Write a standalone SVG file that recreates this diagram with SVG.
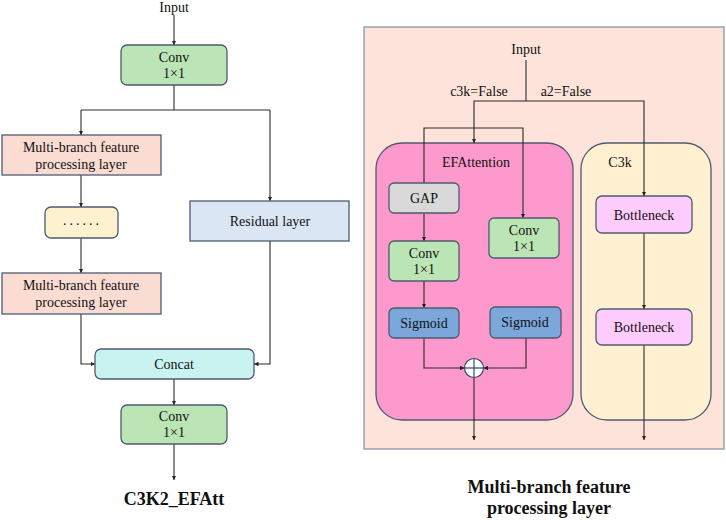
<svg xmlns="http://www.w3.org/2000/svg" width="726" height="520" viewBox="0 0 726 520">
<defs>
<marker id="ah" viewBox="0 0 8 8" refX="8" refY="4" markerWidth="4.5" markerHeight="4.5" orient="auto" markerUnits="userSpaceOnUse">
<path d="M0,0 L8,4 L0,8 z" fill="#222"/>
</marker>
</defs>
<style>
text{font-size:14px;fill:#111;text-anchor:middle}
.title{font-weight:bold;font-size:18px}
.box{stroke:#4d5b70;stroke-width:1.3}
.conv{fill:#bce5b5}
.mb{fill:#fbdcd2}
.dots{fill:#fef1cf}
.res{fill:#dbe6f4}
.cat{fill:#c9f3f1}
.gap{fill:#d9d9d9}
.sig{fill:#7ca7db}
.bn{fill:#ffccfe}
.edge{fill:none;stroke:#2b2b2b;stroke-width:1.1}
.arr{marker-end:url(#ah)}
</style>
<rect width="726" height="520" fill="#ffffff"/>
<g font-family="Liberation Serif, DejaVu Serif, serif">
<g id="panel-right-bg">
<rect x="364" y="27" width="360" height="422" fill="#fde3da" stroke="#8a96a6" stroke-width="1.3"/>
</g>
<g id="efattention">
<rect class="box" x="376" y="143" width="197" height="277" rx="26" fill="#fd99cc"/>
<text x="476" y="167">EFAttention</text>
</g>
<g id="c3k">
<rect class="box" x="581" y="143" width="130" height="277" rx="26" fill="#fff0d1"/>
<text x="620" y="167">C3k</text>
</g>

<g id="connectors">
<line class="edge arr" x1="174" y1="15" x2="174" y2="45"/>
<polyline class="edge" points="174,85 174,110"/>
<polyline class="edge" points="81,110 270,110"/>
<line class="edge arr" x1="81" y1="110" x2="81" y2="135"/>
<line class="edge arr" x1="270" y1="110" x2="270" y2="201"/>
<line class="edge arr" x1="81" y1="175" x2="81" y2="207"/>
<line class="edge arr" x1="81" y1="238" x2="81" y2="273"/>
<polyline class="edge arr" points="81,314 81,364 95,364"/>
<polyline class="edge arr" points="270,241 270,364 254,364"/>
<line class="edge arr" x1="174" y1="379" x2="174" y2="405"/>
<line class="edge arr" x1="174" y1="444" x2="174" y2="480"/>
<polyline class="edge" points="526,60 526,101"/>
<polyline class="edge arr" points="526,101 474,101 474,143"/>
<polyline class="edge arr" points="526,101 644,101 644,196"/>
<polyline class="edge arr" points="424,183 424,128 523,128 523,218"/>
<line class="edge arr" x1="424" y1="213" x2="424" y2="241"/>
<line class="edge arr" x1="424" y1="281" x2="424" y2="308"/>
<polyline class="edge arr" points="424,338 424,368 464.5,368"/>
<polyline class="edge arr" points="526,338 526,368 483.5,368"/>
<line class="edge arr" x1="474" y1="377.5" x2="474" y2="440"/>
<line class="edge arr" x1="644" y1="233" x2="644" y2="309"/>
<line class="edge arr" x1="644" y1="345" x2="644" y2="440"/>
</g>

<g id="input-left"><text x="174" y="12">Input</text></g>
<g id="conv1">
<rect class="box conv" x="121" y="45" width="106" height="40" rx="6"/>
<text x="174" y="62">Conv</text><text x="174" y="78">1×1</text>
</g>
<g id="mb1">
<rect class="box mb" x="2" y="135" width="159" height="40"/>
<text x="81" y="152">Multi-branch feature</text><text x="81" y="169">processing layer</text>
</g>
<g id="dots">
<rect class="box dots" x="45" y="207" width="73" height="31" rx="6"/>
<text x="82.5" y="225" letter-spacing="3">......</text>
</g>
<g id="residual">
<rect class="box res" x="190" y="201" width="159" height="40"/>
<text x="270" y="226">Residual layer</text>
</g>
<g id="mb2">
<rect class="box mb" x="2" y="273" width="159" height="41"/>
<text x="81" y="290">Multi-branch feature</text><text x="81" y="307">processing layer</text>
</g>
<g id="concat">
<rect class="box cat" x="95" y="349" width="159" height="30" rx="6"/>
<text x="174" y="369">Concat</text>
</g>
<g id="conv2">
<rect class="box conv" x="121" y="405" width="106" height="39" rx="6"/>
<text x="174" y="421">Conv</text><text x="174" y="437">1×1</text>
</g>
<g id="title-left"><text class="title" x="174" y="505">C3K2_EFAtt</text></g>

<g id="input-right"><text x="526" y="54">Input</text></g>
<g id="label-c3k"><text x="479" y="96">c3k=False</text></g>
<g id="label-a2"><text x="566" y="96">a2=False</text></g>
<g id="gap">
<rect class="box gap" x="389" y="183" width="70" height="30" rx="5"/>
<text x="424" y="203">GAP</text>
</g>
<g id="conv-left">
<rect class="box conv" x="389" y="241" width="70" height="40" rx="5"/>
<text x="424" y="258">Conv</text><text x="424" y="274">1×1</text>
</g>
<g id="conv-right">
<rect class="box conv" x="489" y="218" width="70" height="40" rx="5"/>
<text x="524" y="235">Conv</text><text x="524" y="251">1×1</text>
</g>
<g id="sigmoid-left">
<rect class="box sig" x="389" y="308" width="70" height="30" rx="5"/>
<text x="424" y="328">Sigmoid</text>
</g>
<g id="sigmoid-right">
<rect class="box sig" x="490" y="307" width="71" height="31" rx="5"/>
<text x="525" y="327">Sigmoid</text>
</g>
<g id="add">
<circle cx="474" cy="368" r="9.5" fill="#ffffff" stroke="#3a4a66" stroke-width="1.2"/>
<line x1="464.5" y1="368" x2="483.5" y2="368" stroke="#2c4a7a" stroke-width="1.2"/>
<line x1="474" y1="358.5" x2="474" y2="377.5" stroke="#2c4a7a" stroke-width="1.2"/>
</g>
<g id="bottleneck1">
<rect class="box bn" x="596" y="196" width="96" height="37" rx="6"/>
<text x="644" y="220">Bottleneck</text>
</g>
<g id="bottleneck2">
<rect class="box bn" x="596" y="309" width="96" height="36" rx="6"/>
<text x="644" y="332">Bottleneck</text>
</g>
<g id="title-right">
<text class="title" x="549" y="493">Multi-branch feature</text>
<text class="title" x="549" y="514">processing layer</text>
</g>
</g>
</svg>
